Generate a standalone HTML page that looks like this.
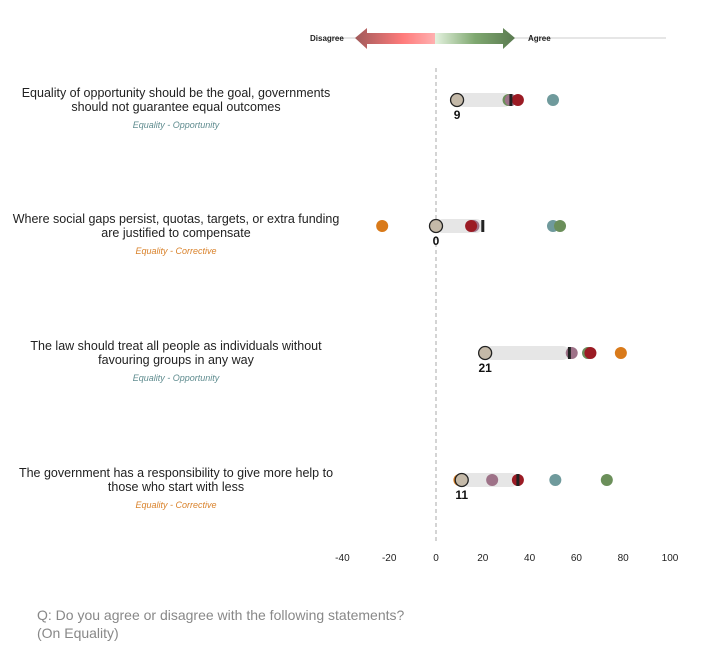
<!DOCTYPE html>
<html><head><meta charset="utf-8"><style>
body{margin:0;background:#fff;width:720px;height:658px;overflow:hidden;font-family:"Liberation Sans",sans-serif}
</style></head><body>
<svg width="720" height="658">
<defs>
<linearGradient id="gl" x1="0" x2="1"><stop offset="0" stop-color="#a05a5a"/><stop offset="0.6" stop-color="#ff7b7b"/><stop offset="1" stop-color="#ffb0b0"/></linearGradient>
<linearGradient id="gr" x1="0" x2="1"><stop offset="0" stop-color="#e4f2df"/><stop offset="0.5" stop-color="#7fa870"/><stop offset="1" stop-color="#5a7a50"/></linearGradient>
</defs>
<g>
<line x1="330" y1="38" x2="666" y2="38" stroke="#ccc" stroke-width="1"/>
<polygon points="355,38 367,28 367,33 435,33 435,44 367,44 367,49" fill="url(#gl)"/>
<polygon points="435,33 503,33 503,28 515,38 503,49 503,44 435,44" fill="url(#gr)"/>
<text x="310" y="41" font-size="8" font-weight="bold" fill="#222">Disagree</text>
<text x="528" y="41" font-size="8" font-weight="bold" fill="#222">Agree</text>
</g>
<line id="zero" x1="436" y1="68" x2="436" y2="542" stroke="#aaa" stroke-dasharray="4,3"/>
<g id="labels"></g>
<g id="marks"></g>
<g id="axis"></g>
<text x="37" y="620" font-size="14" fill="#888">Q: Do you agree or disagree with the following statements?</text>
<text x="37" y="638" font-size="14" fill="#888">(On Equality)</text>
</svg>
<script>
const statements=[["Equality of opportunity should be the goal, governments","should not guarantee equal outcomes"],["Where social gaps persist, quotas, targets, or extra funding","are justified to compensate"],["The law should treat all people as individuals without","favouring groups in any way"],["The government has a responsibility to give more help to","those who start with less"]];
const categories=["Equality - Opportunity","Equality - Corrective","Equality - Opportunity","Equality - Corrective"];
const baseValues=[9,0,21,11];
const barEnd=[32,20,57,35];
const greenValues=[31,53,65,73];
const redValues=[35,15,66,35];
const tealValues=[50,50,65,51];
const pinkValues=[32,16,58,24];
const orangeValues=[null,-23,79,10];
const ticks=[-40,-20,0,20,40,60,80,100];
const rowY=[100,226,353,480];
const NS="http://www.w3.org/2000/svg";
const x=v=>436+v*2.34;
function mk(tag,attrs,parent){const e=document.createElementNS(NS,tag);for(const k in attrs)e.setAttribute(k,attrs[k]);parent.appendChild(e);return e;}
const L=document.getElementById('labels'),M=document.getElementById('marks'),A=document.getElementById('axis');
statements.forEach((s,i)=>{
 const y=rowY[i];
 s.forEach((line,j)=>{const t=mk('text',{x:176,y:y-3+j*14,'font-size':'12.5','text-anchor':'middle',fill:'#222'},L);t.textContent=line;
 
 });
 const c=mk('text',{x:176,y:y+28,'font-size':'9','font-style':'italic','text-anchor':'middle',fill:categories[i].includes('Opp')?'#5f8c8f':'#d9822b'},L);c.textContent=categories[i];
 
 
 const bar=mk('rect',{x:x(baseValues[i]),y:y-7,width:x(barEnd[i])-x(baseValues[i]),height:14,rx:7,fill:'#e6e6e6'},M);
 
 
 const series=[[orangeValues,'#d97a1a'],[tealValues,'#6f9a9c'],[greenValues,'#6b8f5a'],[pinkValues,'#9e7288'],[redValues,'#9b1b24']];
 series.forEach(([arr,col])=>{if(arr[i]==null)return;const d=mk('circle',{cx:x(arr[i]),cy:y,r:6,fill:col},M);
 
 });
 const m=mk('rect',{x:x(barEnd[i])-1.5,y:y-6,width:3,height:12,fill:'#222'},M);
 
 
 const b=mk('circle',{cx:x(baseValues[i]),cy:y,r:6.5,fill:'#c4b9a8',stroke:'#222','stroke-width':1.3},M);
 
 
 const bl=mk('text',{x:x(baseValues[i]),y:y+19,'font-size':'12','font-weight':'bold','text-anchor':'middle',fill:'#111'},M);bl.textContent=baseValues[i];
 
 
});
ticks.forEach(t=>{const e=mk('text',{x:x(t),y:561,'font-size':'10','text-anchor':'middle',fill:'#222'},A);e.textContent=t;
 
 });
</script>
</body></html>
